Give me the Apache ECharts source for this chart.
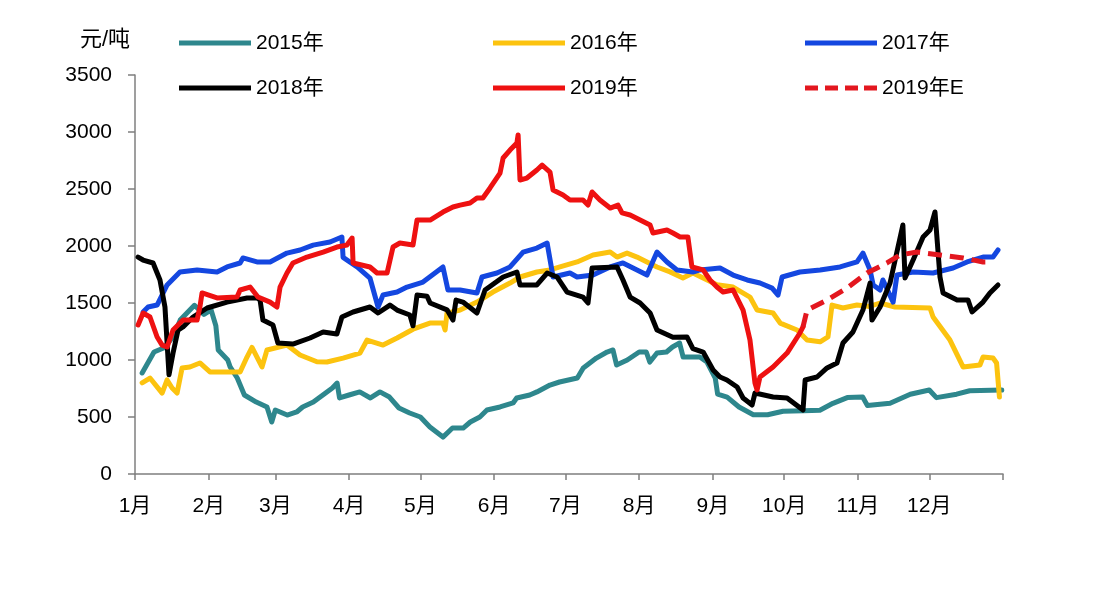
<!DOCTYPE html>
<html>
<head>
<meta charset="utf-8">
<script src="https://cdn.jsdelivr.net/npm/echarts@6/dist/echarts.min.js"></script>
<style>html,body{margin:0;padding:0;background:#fff;}#c{width:1094px;height:600px;}</style>
</head>
<body>
<div id="c"></div>
<script>
const seriesNames = ['2015年','2016年','2017年','2018年','2019年','2019年E'];
const monthLabels = ['1月','2月','3月','4月','5月','6月','7月','8月','9月','10月','11月','12月'];
const monthStarts = [0,31,59,90,120,151,181,212,243,273,304,334];
const yearEnd = 365;
const yTicks = [0,500,1000,1500,2000,2500,3000,3500];

// [day of year, 元/吨]
const s2015 = [[3,886],[8,1070],[12,1105],[16,1200],[19,1350],[25,1480],[29,1400],[32,1440],[34,1300],[35,1088],[39,1000],[40,940],[43,842],[46,693],[51,631],[55.5,588],[57.5,456],[59,561],[64,517],[68,544],[70.5,588],[75,631],[79,693],[83,754],[85,798],[86,667],[90,693],[94.5,720],[99,667],[103,720],[107,675],[111,579],[115.5,535],[120,500],[124,412],[129.5,324],[133.5,403],[138,403],[141,456],[145,500],[148,561],[153.5,588],[159,623],[160.5,667],[166,693],[169,720],[174.5,780],[178.5,807],[186,842],[188.5,930],[194,1017],[198.5,1070],[201,1088],[202.5,956],[207,1000],[212,1070],[215,1070],[216.5,982],[219.5,1061],[223.5,1070],[226,1114],[229,1149],[230.5,1026],[237.5,1026],[240.5,982],[244,842],[245,700],[249,675],[254,588],[260,520],[266,520],[272.5,550],[281,555],[288,560],[293.5,620],[299.5,670],[306,675],[308,600],[317.5,620],[326,700],[334,737],[337,670],[345.5,700],[351,730],[364.5,737]];
const s2016 = [[3,800],[6.3,842],[11.4,710],[13.5,825],[15.6,754],[17.7,710],[19.8,930],[23.1,939],[27.3,974],[31.5,895],[44.2,895],[47.1,1026],[49.2,1110],[53.4,939],[55.5,1088],[63.9,1131],[69.4,1044],[76.5,985],[80.7,982],[87.5,1017],[94.6,1060],[97.6,1175],[104.3,1131],[110.2,1193],[116.9,1270],[124,1324],[129.5,1324],[130.4,1263],[131.2,1412],[136.7,1438],[143.8,1508],[150.5,1596],[157.7,1675],[161.9,1728],[169,1772],[174.5,1790],[178.7,1816],[185.9,1860],[192.6,1921],[199.8,1947],[202.7,1903],[206.9,1938],[211.1,1903],[213.6,1877],[219.5,1816],[225,1773],[230.4,1719],[234.6,1763],[238.9,1719],[244.7,1660],[251.5,1640],[258.6,1552],[261.6,1438],[268.3,1412],[271.3,1324],[278.4,1263],[282.6,1175],[288.1,1160],[291.4,1202],[293.1,1482],[297.7,1456],[303.6,1482],[309,1470],[313.3,1500],[319.6,1465],[334.3,1456],[335.6,1377],[342.7,1175],[348.2,939],[355.3,956],[356.6,1026],[360.8,1017],[362.3,974],[363.5,675]];
const s2017 = [[3.4,1421],[5.5,1465],[9.3,1482],[13.5,1658],[18.9,1772],[26.1,1790],[34.5,1772],[38.7,1816],[44.2,1851],[45.4,1895],[51.3,1860],[56.8,1860],[63.9,1938],[69.4,1965],[74.9,2008],[82,2035],[87,2079],[87.5,1900],[93.4,1816],[98.8,1719],[102.2,1465],[104.3,1570],[110.2,1596],[114.4,1640],[119.8,1675],[121.1,1684],[129.5,1816],[131.6,1614],[136.7,1614],[143.8,1588],[145.9,1728],[152.2,1763],[157.7,1816],[163.2,1947],[169,1982],[173.3,2026],[175.8,1728],[182.9,1763],[185.9,1728],[192.6,1745],[199.8,1816],[205.2,1851],[211.1,1790],[215.3,1745],[219.5,1947],[223.7,1860],[227.9,1790],[234.6,1772],[237.6,1790],[246,1807],[251.5,1745],[257.4,1702],[262.8,1675],[267.9,1631],[270.4,1570],[272.1,1728],[279.6,1772],[288.1,1790],[296.5,1816],[303.6,1860],[306.1,1938],[309.1,1790],[310.4,1658],[313.3,1614],[314.5,1702],[318.8,1508],[320.4,1745],[327.2,1772],[335.6,1763],[344,1807],[349.9,1860],[356.6,1903],[360.8,1903],[362.9,1965]];
const s2018 = [[1.3,1903],[3.4,1877],[7.6,1851],[10.5,1702],[12.6,1465],[14.3,870],[16,1061],[18.1,1263],[20.2,1290],[24.4,1377],[30.3,1456],[38.7,1508],[47.1,1544],[51.3,1544],[52.6,1526],[53.8,1350],[58,1307],[60.1,1149],[66.4,1140],[73.6,1193],[79.1,1246],[84.9,1228],[87,1377],[91.7,1421],[98.8,1465],[102.2,1412],[107.2,1482],[110.2,1438],[115.6,1395],[116.9,1300],[118.6,1570],[122.8,1560],[124.1,1500],[131.2,1440],[133.7,1350],[135,1526],[137.9,1508],[143.8,1412],[147.2,1614],[154.8,1728],[160.6,1772],[161.9,1658],[169,1658],[173.3,1763],[177.5,1728],[181.7,1596],[188.4,1552],[190.5,1500],[192.2,1807],[202.7,1816],[205.2,1702],[208.2,1552],[212.4,1500],[216.6,1412],[219.5,1263],[226.2,1200],[232.1,1202],[234.6,1100],[238.9,1070],[243.1,912],[246,851],[248.9,825],[253.2,763],[255.7,667],[259.5,605],[260.7,710],[268.3,675],[274.2,667],[280.9,561],[281.8,825],[286.8,851],[291,930],[295.2,974],[297.7,1149],[301.9,1246],[306.1,1438],[309.1,1675],[309.9,1350],[313.3,1465],[317.5,1675],[322.9,2184],[323.8,1719],[327.2,1877],[331.4,2079],[334.3,2140],[336.4,2298],[338.5,1728],[339.8,1588],[345.7,1526],[350.3,1526],[352,1421],[356.6,1508],[359.5,1588],[362.9,1658]];
const s2019 = [[1.3,1307],[3.4,1412],[6.3,1377],[9.3,1202],[11.4,1131],[13.5,1114],[16,1263],[20.2,1350],[26.1,1350],[27.3,1465],[28.2,1588],[34.5,1544],[42.9,1553],[44.2,1614],[48.4,1640],[51.7,1553],[56.8,1508],[59.7,1465],[61,1640],[63.9,1763],[66.4,1851],[72.3,1903],[79.1,1947],[84.9,1991],[89.1,2008],[91.3,2070],[91.7,1851],[98.8,1816],[101.8,1763],[106,1763],[108.5,1991],[111.4,2026],[116.9,2008],[117.7,1991],[118.6,2228],[124.1,2228],[129.5,2298],[133.7,2342],[136.7,2359],[140.9,2377],[143.8,2421],[146.3,2421],[149.3,2509],[153.5,2640],[154.8,2772],[157.7,2842],[160.6,2904],[161.1,2974],[161.9,2579],[164.8,2596],[169,2667],[171.2,2710],[174.5,2649],[175.8,2491],[180,2447],[182.9,2403],[188.4,2403],[190.5,2359],[192.2,2474],[195.5,2403],[199.8,2333],[203.1,2359],[204.8,2290],[208.2,2272],[212.4,2228],[216.6,2184],[217.8,2114],[223.7,2140],[226.2,2114],[229.2,2079],[232.5,2079],[234.2,1816],[238.9,1790],[241.8,1702],[244.7,1640],[247.3,1596],[251.5,1614],[255.7,1438],[258.6,1175],[260.7,798],[261.6,737],[262.8,851],[268.3,939],[274.2,1061],[279.6,1237],[280.9,1290]];
const s2019E = [[280.9,1290],[282.6,1438],[291,1526],[299.4,1631],[307.8,1763],[316.2,1851],[321.7,1921],[328.8,1947],[338.5,1921],[348.2,1895],[356.6,1860],[359.5,1860]];

const colors = ['#2e878d','#fcc30f','#1447e0','#000000','#ee1111','#e3171f'];
const dataList = [s2015, s2016, s2017, s2018, s2019, s2019E];
const FONT = "'Liberation Sans','Noto Sans CJK SC',sans-serif";
const SOLID_ICON = 'path://M0,0L72,0L72,5L0,5Z';
const DASH_ICON = 'path://M0,0L13,0L13,5L0,5Z M20,0L33,0L33,5L20,5Z M40,0L53,0L53,5L40,5Z M59,0L72,0L72,5L59,5Z';

const chart = echarts.init(document.getElementById('c'), null, {renderer:'canvas'});
const series = dataList.map((d, i) => ({
  name: seriesNames[i],
  type: 'line',
  data: d,
  symbol: 'none',
  color: colors[i],
  lineStyle: {
    width: 5,
    color: colors[i],
    type: i === 5 ? [14, 8] : 'solid',
    join: 'round',
    cap: i === 5 ? 'butt' : 'round'
  },
  z: 2 + i
}));

function mkLegend(left, idx){
  return {
    orient: 'vertical', left: left, top: 32, padding: 0,
    itemWidth: 72, itemHeight: 5, itemGap: 23,
    data: idx.map(i => ({name: seriesNames[i], icon: i === 5 ? DASH_ICON : SOLID_ICON})),
    textStyle: {fontFamily: FONT, fontSize: 21, color: '#000', lineHeight: 22}
  };
}

chart.setOption({
  animation: false,
  backgroundColor: '#ffffff',
  textStyle: {fontFamily: FONT},
  legend: [
    mkLegend(179, [0, 3]),
    mkLegend(493, [1, 4]),
    mkLegend(805, [2, 5])
  ],
  grid: {left: 135, right: 91, top: 75, bottom: 126, containLabel: false},
  xAxis: {
    type: 'value', min: 0, max: yearEnd,
    splitLine: {show: false},
    axisLine: {show: true, lineStyle: {color: '#7f7f7f', width: 1.5}},
    axisTick: {show: true, length: 6, lineStyle: {color: '#7f7f7f', width: 1.5},
      customValues: monthStarts.concat([yearEnd])},
    axisLabel: {
      customValues: monthStarts,
      margin: 22, fontSize: 21, color: '#000', fontFamily: FONT,
      formatter: function(v){ const k = monthStarts.indexOf(v); return k >= 0 ? monthLabels[k] : ''; }
    }
  },
  yAxis: {
    type: 'value', min: yTicks[0], max: yTicks[yTicks.length-1], interval: 500,
    name: '元/吨', nameLocation: 'end', nameGap: 35,
    nameTextStyle: {fontSize: 22, color: '#000', align: 'right', verticalAlign: 'middle', padding: [0, 5, 0, 0], fontFamily: FONT},
    splitLine: {show: false},
    axisLine: {show: true, lineStyle: {color: '#7f7f7f', width: 1.5}},
    axisTick: {show: true, inside: false, length: 7, lineStyle: {color: '#7f7f7f', width: 1.5}},
    axisLabel: {margin: 23, fontSize: 21, color: '#000', fontFamily: FONT,
      formatter: function(v){ return String(v); }}
  },
  series: series
});
</script>
</body>
</html>
